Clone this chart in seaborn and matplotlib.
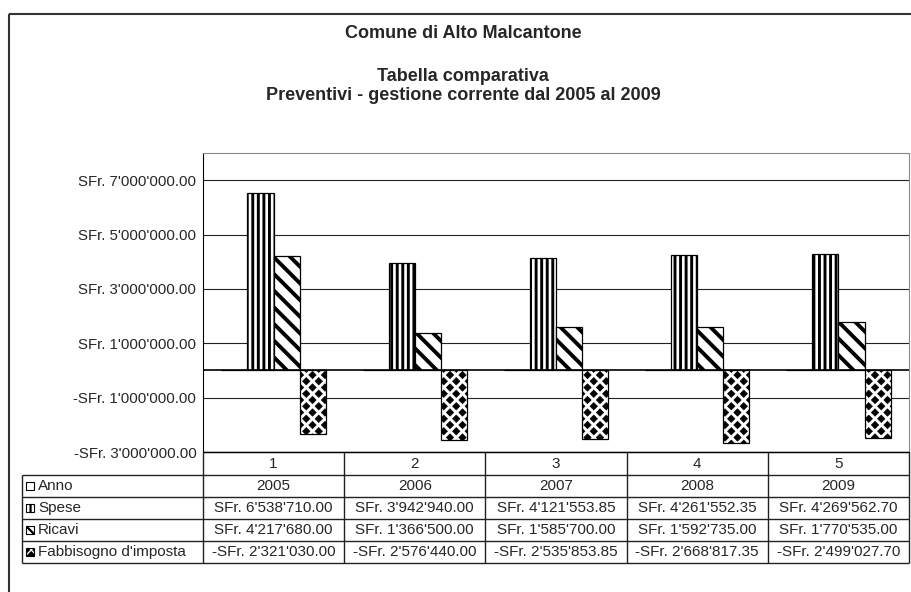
import numpy as np
import pandas as pd
import seaborn as sns
import matplotlib
matplotlib.use("Agg")
import matplotlib.pyplot as plt
import matplotlib.hatch as mhatch
from matplotlib.path import Path
from matplotlib.patches import Rectangle
from matplotlib.ticker import FuncFormatter

##### dati
categorie = ["1", "2", "3", "4", "5"]
anno = [2005, 2006, 2007, 2008, 2009]
spese = [6538710.00, 3942940.00, 4121553.85, 4261552.35, 4269562.70]
ricavi = [4217680.00, 1366500.00, 1585700.00, 1592735.00, 1770535.00]
fabbisogno = [-2321030.00, -2576440.00, -2535853.85, -2668817.35, -2499027.70]
serie = ["Anno", "Spese", "Ricavi", "Fabbisogno d'imposta"]
y_ticks = [-3e6, -1e6, 1e6, 3e6, 5e6, 7e6]

titolo = "Comune di Alto Malcantone"
sottotitolo = "Tabella comparativa\nPreventivi - gestione corrente dal 2005 al 2009"


##### motivo a rombi (prende il posto delle stelle '*')
class Rombi(mhatch.HatchPatternBase):
    def __init__(self, hatch, density):
        self.n = hatch.count('*') * 8
        self.num_vertices = (2 * self.n + 3) * (self.n + 2) * 5 if self.n else 0

    def set_vertices_and_codes(self, vertices, codes):
        p = 1.0 / self.n
        rombo = np.array([[0, 1], [-1, 0], [0, -1], [1, 0], [0, 1]]) * p * 0.3
        parti = []
        for r in range(-1, 2 * self.n + 2):
            dx = p / 2 if r % 2 else 0
            for c in range(-1, self.n + 1):
                parti.append(rombo + [c * p + dx, r * p / 2])
        vertices[:] = np.concatenate(parti)
        codes[:] = np.tile([Path.MOVETO, Path.LINETO, Path.LINETO, Path.LINETO, Path.CLOSEPOLY], len(parti))


mhatch._hatch_types = [h for h in mhatch._hatch_types if h is not mhatch.Stars] + [Rombi]

sns.set_style("white")
plt.rcParams['font.family'] = ['Liberation Sans', 'DejaVu Sans']
plt.rcParams['hatch.linewidth'] = 1.6

df = pd.DataFrame({
    "cat": categorie * 4,
    "serie": np.repeat(serie, 5),
    "valore": anno + spese + ricavi + fabbisogno,
})

fig = plt.figure(figsize=(9.12, 5.92), dpi=100)
ax = fig.add_axes([203 / 912, 140 / 592, 706 / 912, 299 / 592])

sns.barplot(data=df, x="cat", y="valore", hue="serie", order=categorie, hue_order=serie,
            palette=["white"] * 4, saturation=1, width=0.74, errorbar=None,
            edgecolor="black", linewidth=0.9, legend=False, ax=ax)

tratteggi = ["", "|||", "\\\\", "*"]
spessori = [1.0, 2.1, 2.8, 0.4]
for cont, h, lw in zip(ax.containers, tratteggi, spessori):
    for b in cont:
        b.set_hatch(h)
        if hasattr(b, "set_hatch_linewidth"):
            b.set_hatch_linewidth(lw)

ax.set_xlim(-0.5, 4.5)
ax.set_ylim(-3e6, 8e6)
ax.set_yticks(y_ticks)
ax.yaxis.set_major_formatter(FuncFormatter(
    lambda v, p: ("-" if v < 0 else "") + "SFr. " + f"{abs(v):,.2f}".replace(",", "'")))
ax.yaxis.grid(True, color="#222222", lw=0.8)
ax.set_axisbelow(True)
ax.axhline(0, color="black", lw=1.2, zorder=1)
ax.tick_params(axis="y", direction="out", length=3.6, width=0.8, color="black", labelsize=10.8, pad=1.2)
ax.tick_params(axis="x", bottom=False, labelbottom=False)
ax.set_xlabel("")
ax.set_ylabel("")
for s in ["top", "right"]:
    ax.spines[s].set_color("#888888")
for s in ["left", "bottom"]:
    ax.spines[s].set_color("black")

##### tabella dei dati e titoli
ov = fig.add_axes([0, 0, 1, 1], zorder=3)
ov.set_xlim(0, 912)
ov.set_ylim(592, 0)
ov.axis("off")

ov.add_patch(Rectangle((9, 14), 1000, 1000, fill=False, edgecolor="#333333", lw=1.5, clip_on=False))
ov.text(463, 33, titolo, ha="center", va="center", fontsize=13, fontweight="bold")
ov.text(463, 86, sottotitolo, ha="center", va="center", fontsize=13, fontweight="bold", linespacing=1.2)

col = np.linspace(203, 909, 6)
righe = [452, 475, 497, 519, 541, 563]
ov.hlines(righe[0], col[0], col[-1], color="black", lw=1)
ov.hlines(righe[1:], 22, col[-1], color="#222222", lw=1)
ov.vlines(22, righe[1], righe[-1], color="#222222", lw=1)
ov.vlines(col, righe[0], righe[-1], color="#222222", lw=1)


def sfr(v):
    return ("-" if v < 0 else "") + "SFr. " + f"{abs(v):,.2f}".replace(",", "'")


centri = (col[:-1] + col[1:]) / 2
yh = (righe[0] + righe[1]) / 2
for xc, c in zip(centri, categorie):
    ov.text(xc, yh, c, ha="center", va="center", fontsize=11)

valori = [[str(a) for a in anno], [sfr(v) for v in spese], [sfr(v) for v in ricavi], [sfr(v) for v in fabbisogno]]
for i, (nome, h, riga) in enumerate(zip(serie, tratteggi, valori)):
    yc = (righe[i + 1] + righe[i + 2]) / 2
    ov.add_patch(Rectangle((26, yc - 4), 8, 8, facecolor="white", edgecolor="black", lw=0.8, hatch=h))
    ov.text(38, yc, nome, ha="left", va="center", fontsize=11)
    for xc, t in zip(centri, riga):
        ov.text(xc, yc, t, ha="center", va="center", fontsize=11)

fig.savefig("out.png", dpi=100)
